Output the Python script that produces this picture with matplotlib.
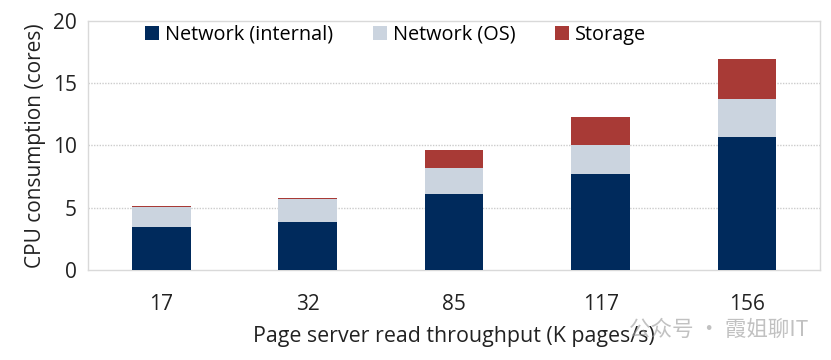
import matplotlib
matplotlib.use("Agg")
import matplotlib.pyplot as plt
import numpy as np

categories = ["17", "32", "85", "117", "156"]
net_internal = [3.45, 3.83, 6.13, 7.69, 10.7]
net_os = [1.6, 1.87, 2.06, 2.35, 3.0]
storage = [0.08, 0.05, 1.47, 2.22, 3.2]

series_names = ["Network (internal)", "Network (OS)", "Storage"]
colors = ["#002a5c", "#cbd4df", "#a83a36"]

plt.rcParams['font.family'] = ['Open Sans', 'Noto Sans CJK SC', 'DejaVu Sans']

fig = plt.figure(figsize=(8.31, 3.6), dpi=100)
ax = fig.add_axes([0.106, 0.25, 0.881, 0.692])

x = np.arange(len(categories))
w = 0.4
ax.bar(x, net_internal, w, color=colors[0], label=series_names[0], zorder=3)
ax.bar(x, net_os, w, bottom=net_internal, color=colors[1], label=series_names[1], zorder=3)
bottom2 = np.array(net_internal) + np.array(net_os)
ax.bar(x, storage, w, bottom=bottom2, color=colors[2], label=series_names[2], zorder=3)

ax.set_ylim(0, 20)
ax.set_yticks([0, 5, 10, 15, 20])
ax.set_xlim(-0.5, len(categories) - 0.5)
ax.set_xticks(x)
ax.set_xticklabels(categories)
ax.tick_params(axis='both', length=0, labelsize=15, colors='#222222')
ax.tick_params(axis='x', pad=17)
ax.tick_params(axis='y', pad=8)

for yv in [5, 10, 15]:
    ax.axhline(yv, color='#cccccc', linestyle=(0, (1, 1)), linewidth=1, zorder=1)

for s in ax.spines.values():
    s.set_color('#d9d9d9')
    s.set_linewidth(1)

ax.set_ylabel("CPU consumption (cores)", fontsize=15, color='#222222', labelpad=5)
ax.set_xlabel("Page server read throughput (K pages/s)", fontsize=15.4, color='#222222', labelpad=8)

ax.legend(loc='center', ncol=3, frameon=False, fontsize=14.3,
          bbox_to_anchor=(0.42, 0.944), handlelength=0.7, handleheight=0.7,
          handletextpad=0.3, columnspacing=2.0, borderaxespad=0, borderpad=0)

fig.text(0.865, 0.083, "公众号 · 霞姐聊IT", fontsize=15.5, color='#999999', alpha=0.6,
         ha='center', va='center', family=['Noto Sans CJK SC', 'DejaVu Sans'])

fig.savefig("out.png", dpi=100)
